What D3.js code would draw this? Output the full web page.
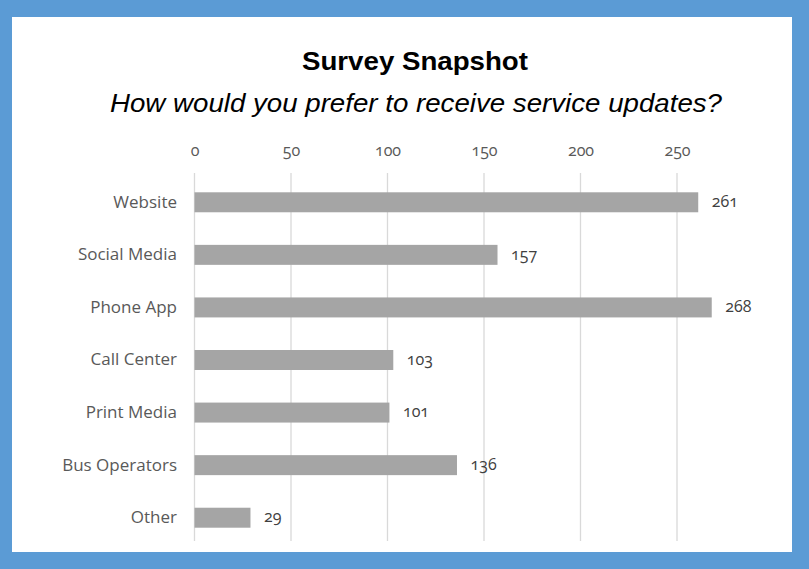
<!DOCTYPE html>
<html>
<head>
<meta charset="utf-8">
<script src="https://cdn.jsdelivr.net/npm/d3@7"></script>
<style>
  html, body { margin: 0; padding: 0; background: #5B9BD5; }
  svg { display: block; }
</style>
</head>
<body>
<svg id="chart" width="809" height="569"></svg>
<script>
const title = "Survey Snapshot";
const subtitle = "How would you prefer to receive service updates?";
const categories = ["Website", "Social Media", "Phone App", "Call Center", "Print Media", "Bus Operators", "Other"];
const values = [261, 157, 268, 103, 101, 136, 29];
const tickValues = [0, 50, 100, 150, 200, 250];

const svg = d3.select("#chart");
const W = 809, H = 569;

svg.append("rect").attr("x", 0).attr("y", 0).attr("width", W).attr("height", H).attr("fill", "#5B9BD5");
svg.append("rect").attr("x", 12).attr("y", 17).attr("width", 780).attr("height", 535).attr("fill", "#FFFFFF");

svg.append("text")
  .attr("x", 415).attr("y", 69.5)
  .attr("text-anchor", "middle")
  .attr("font-family", "'Liberation Sans', Arial, sans-serif")
  .attr("font-weight", "bold")
  .attr("font-size", 26)
  .attr("fill", "#000")
  .attr("textLength", 226).attr("lengthAdjust", "spacingAndGlyphs")
  .text(title);

svg.append("text")
  .attr("x", 416).attr("y", 111.5)
  .attr("text-anchor", "middle")
  .attr("font-family", "'Liberation Sans', Arial, sans-serif")
  .attr("font-style", "italic")
  .attr("font-size", 25.5)
  .attr("fill", "#000")
  .attr("textLength", 612).attr("lengthAdjust", "spacingAndGlyphs")
  .text(subtitle);

const x = d3.scaleLinear().domain([0, 300]).range([194.5, 194.5 + 579]);
const y = d3.scaleBand().domain(categories).range([176, 544]).paddingInner(0.62).paddingOuter(0.31);

// gridlines
svg.append("g").selectAll("line").data(tickValues).join("line")
  .attr("x1", d => x(d)).attr("x2", d => x(d))
  .attr("y1", 173).attr("y2", 541)
  .attr("stroke", "#D9D9D9").attr("stroke-width", 1.3);

// top axis
const axis = svg.append("g")
  .attr("transform", "translate(0,156)")
  .call(d3.axisTop(x).tickValues(tickValues).tickSize(0).tickPadding(0));
axis.select(".domain").remove();
axis.selectAll("text")
  .attr("font-family", "'Open Sans', sans-serif")
  .attr("font-size", 16)
  .attr("fill", "#595959")
  .style("font-variant-numeric", "oldstyle-nums");

// category axis
const yAxis = svg.append("g")
  .attr("transform", "translate(177,0)")
  .call(d3.axisLeft(y).tickSize(0).tickPadding(0));
yAxis.select(".domain").remove();
yAxis.selectAll("text")
  .attr("font-family", "'Open Sans', sans-serif")
  .attr("font-size", 17)
  .attr("fill", "#595959");

const data = categories.map((c, i) => ({ c, v: values[i] }));

svg.append("g").selectAll("rect").data(data).join("rect")
  .attr("x", x(0))
  .attr("y", d => y(d.c))
  .attr("width", d => x(d.v) - x(0))
  .attr("height", y.bandwidth())
  .attr("fill", "#A5A5A5");

svg.append("g").selectAll("text").data(data).join("text")
  .attr("x", d => x(d.v) + 13.5)
  .attr("y", d => y(d.c) + y.bandwidth() / 2 + 4.7)
  .attr("font-family", "'Open Sans', sans-serif")
  .attr("font-size", 16)
  .attr("fill", "#404040")
  .style("font-variant-numeric", "oldstyle-nums")
  .text(d => d.v);
</script>
</body>
</html>
